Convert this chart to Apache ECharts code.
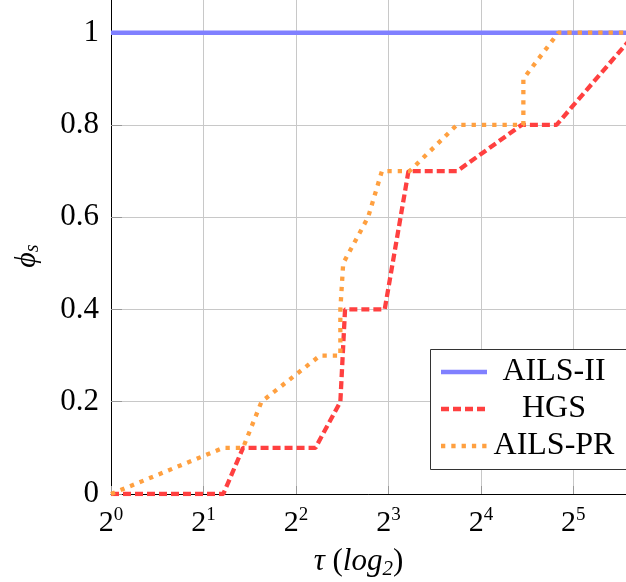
<!DOCTYPE html>
<html>
<head>
<meta charset="utf-8">
<script src="https://cdn.jsdelivr.net/npm/echarts@6/dist/echarts.min.js"></script>
<style>
html,body{margin:0;padding:0;background:#fff;}
#chart{width:626px;height:582px;}
</style>
</head>
<body>
<div id="chart"></div>
<script>
// tau values (real, plotted on log2 axis) and fraction of instances phi_s
const seriesNames = ['AILS-II', 'HGS', 'AILS-PR'];
const ailsIITau = [1, 48.2];
const ailsIIPhi = [1, 1];
const hgsTau = [1, 2.32, 2.69, 4.63, 5.58, 5.78, 7.78, 9.3, 13.4, 21.7, 28.2, 48.2];
const hgsPhi = [0, 0, 0.1, 0.1, 0.2, 0.4, 0.4, 0.7, 0.7, 0.8, 0.8, 0.98];
const ailsPRTau = [1, 2.32, 2.69, 3.09, 4.79, 5.58, 5.58, 5.70, 6.87, 7.62, 9.38, 13.36, 22.0, 22.0, 28.6, 48.2];
const ailsPRPhi = [0, 0.1, 0.1, 0.2, 0.3, 0.3, 0.4, 0.5, 0.6, 0.7, 0.7, 0.8, 0.8, 0.9, 1.0, 1.0];
const yTicks = [0, 0.2, 0.4, 0.6, 0.8, 1];

const zip = (xs, ys) => xs.map((x, i) => [x, ys[i]]);
const FONT = 'Liberation Serif';
const colors = ['#8080ff', '#ff4040', '#ffa040'];
const lineStyles = [
  {color: colors[0], width: 4.5, type: 'solid'},
  {color: colors[1], width: 4.3, type: [8, 4], cap: 'butt'},
  {color: colors[2], width: 4.3, type: [4.3, 6], cap: 'butt'}
];

// hand-drawn legend box (library legend icons add symbols)
const legendRowsY = [372, 409, 446];
const legendGraphics = [{
  type: 'rect', z: 100,
  shape: {x: 430.5, y: 349.5, width: 220, height: 120},
  style: {fill: '#fff', stroke: '#333', lineWidth: 1}
}];
seriesNames.forEach((n, i) => {
  const ls = lineStyles[i];
  legendGraphics.push({
    type: 'line', z: 101,
    shape: {x1: 441, y1: legendRowsY[i], x2: 487, y2: legendRowsY[i]},
    style: {stroke: ls.color, lineWidth: ls.width, lineDash: Array.isArray(ls.type) ? ls.type : null, lineCap: 'butt'}
  });
  legendGraphics.push({
    type: 'text', z: 101,
    x: 554, y: legendRowsY[i],
    style: {text: n, fontFamily: FONT, fontSize: 32, fill: '#000', align: 'center', verticalAlign: 'middle'}
  });
});

const chart = echarts.init(document.getElementById('chart'), null, {renderer: 'canvas'});
chart.setOption({
  animation: false,
  backgroundColor: '#fff',
  grid: {left: 111, right: -2, top: -10, bottom: 88, containLabel: false, outerBoundsMode: 'none'},
  xAxis: {
    type: 'log',
    logBase: 2,
    min: 1,
    max: 48.2,
    splitNumber: 6,
    axisLine: {show: true, lineStyle: {color: '#000', width: 1}},
    axisTick: {show: true, inside: true, length: 8, lineStyle: {color: '#999'}},
    splitLine: {show: true, lineStyle: {color: '#c8c8c8', width: 1}},
    axisLabel: {
      margin: 12,
      showMaxLabel: false,
      formatter: v => {
        const e = Math.log2(v);
        if (Math.abs(e - Math.round(e)) > 1e-6) return '';
        return '{b|2}{s|' + Math.round(e) + '}';
      },
      rich: {
        b: {fontFamily: FONT, fontSize: 30, color: '#000'},
        s: {fontFamily: FONT, fontSize: 19, color: '#000', padding: [0, 0, 15, 0]}
      }
    },
    name: '{i|τ} ({i|log}{sub|2})',
    nameLocation: 'middle',
    nameGap: 50,
    nameTextStyle: {
      fontFamily: FONT, fontSize: 31, color: '#000', padding: [0, 22, 0, 0],
      rich: {
        i: {fontFamily: FONT, fontSize: 31, fontStyle: 'italic', color: '#000'},
        sub: {fontFamily: FONT, fontSize: 21, fontStyle: 'italic', color: '#000', padding: [15, 0, 0, 0]}
      }
    }
  },
  yAxis: {
    type: 'value',
    min: 0,
    max: (494.3 + 10) / 461.6,
    interval: 0.2,
    axisLine: {show: true, lineStyle: {color: '#000', width: 1}},
    axisTick: {show: true, inside: true, length: 11, lineStyle: {color: '#999'}},
    splitLine: {show: true, lineStyle: {color: '#c8c8c8', width: 1}},
    axisLabel: {
      showMaxLabel: false,
      margin: 12,
      fontFamily: FONT, fontSize: 31, color: '#000',
      formatter: v => {
        const t = yTicks.find(k => Math.abs(k - v) < 1e-6);
        return t === undefined ? '' : String(t);
      }
    },
    name: '{i|\u03D5}{s|s}',
    nameLocation: 'middle',
    nameRotate: 90,
    nameGap: 68,
    nameTextStyle: {
      fontFamily: FONT, fontSize: 30, color: '#000', padding: [0, 28, 0, 0],
      rich: {
        i: {fontFamily: FONT, fontSize: 30, fontStyle: 'italic', color: '#000'},
        s: {fontFamily: FONT, fontSize: 20, fontStyle: 'italic', color: '#000', padding: [12, 0, 0, 0]}
      }
    }
  },
  legend: {show: false, data: seriesNames},
  graphic: legendGraphics,
  series: seriesNames.map((n, i) => ({
    name: n, type: 'line',
    data: [zip(ailsIITau, ailsIIPhi), zip(hgsTau, hgsPhi), zip(ailsPRTau, ailsPRPhi)][i],
    showSymbol: false, symbol: 'none', color: colors[i],
    lineStyle: lineStyles[i]
  }))
});
</script>
</body>
</html>
